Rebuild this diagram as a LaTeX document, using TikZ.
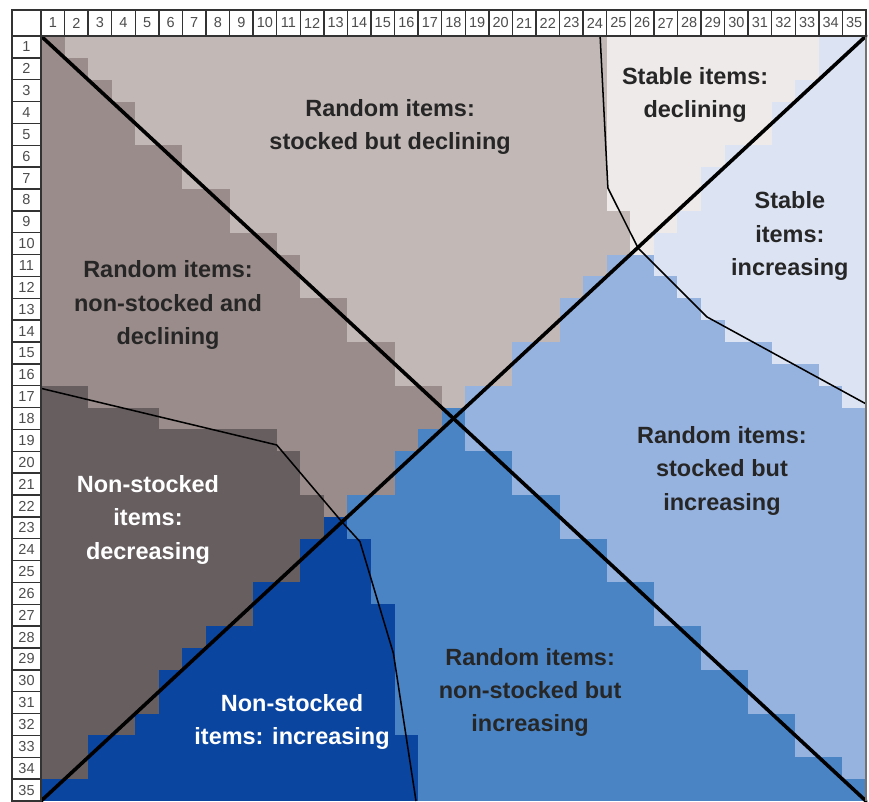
\documentclass[tikz,border=0pt]{standalone}
\usepackage{fontspec}
\setmainfont{Liberation Sans}

\definecolor{ndec}{HTML}{675E60}
\definecolor{rndec}{HTML}{9A8C8A}
\definecolor{rsdec}{HTML}{C2B9B7}
\definecolor{sdec}{HTML}{EDEAE9}
\definecolor{sinc}{HTML}{DCE3F3}
\definecolor{rsinc}{HTML}{96B2DF}
\definecolor{rninc}{HTML}{4A84C5}
\definecolor{ninc}{HTML}{0A45A0}

% one row of cells: colour/last column, ...
\newcommand\cellrow[2]{%
  \foreach \c/\e [remember=\e as \s (initially 0)] in {#2}
    \fill[\c] (\s,1-#1) rectangle (\e+0.02,-#1-0.02);
}

\tikzset{
  collab/.style={draw=black!80, line width=1pt, fill=white, inner sep=0pt,
    minimum width=0.6cm, minimum height=0.6616cm,
    font=\fontsize{10.5}{11}\selectfont, text=black!70},
  rowlab/.style={collab, minimum width=0.738cm, minimum height=0.5564cm},
  divider/.style={line width=2.6pt, line cap=round},
  boundary/.style={line width=1.1pt},
  regionlabel/.style={font=\fontsize{17}{24}\selectfont\bfseries, align=center, text=black!85},
}

\begin{document}
\begin{tikzpicture}[x=0.6cm, y=0.5564cm]
	\useasboundingbox (-1.7394,1.6468) rectangle (35.128,-35);
	
	%TOP HALF
	\cellrow{1}{rndec/1, rsdec/24, sdec/33, sinc/35}
	\cellrow{2}{rndec/2, rsdec/24, sdec/33, sinc/35}
	\cellrow{3}{rndec/3, rsdec/24, sdec/32, sinc/35}
	\cellrow{4}{rndec/4, rsdec/24, sdec/31, sinc/35}
	\cellrow{5}{rndec/4, rsdec/24, sdec/31, sinc/35}
	\cellrow{6}{rndec/6, rsdec/24, sdec/29, sinc/35}
	\cellrow{7}{rndec/6, rsdec/24, sdec/28, sinc/35}
	\cellrow{8}{rndec/8, rsdec/24, sdec/28, sinc/35}
	\cellrow{9}{rndec/8, rsdec/25, sdec/27, sinc/35}
	\cellrow{10}{rndec/10, rsdec/25, sdec/26, sinc/35}
	\cellrow{11}{rndec/11, rsdec/24, rsinc/26, sinc/35}
	\cellrow{12}{rndec/11, rsdec/23, rsinc/27, sinc/35}
	\cellrow{13}{rndec/13, rsdec/22, rsinc/28, sinc/35}
	\cellrow{14}{rndec/13, rsdec/22, rsinc/29, sinc/35}
	\cellrow{15}{rndec/15, rsdec/20, rsinc/31, sinc/35}
	\cellrow{16}{rndec/15, rsdec/20, rsinc/33, sinc/35}
	\cellrow{17}{ndec/2, rndec/17, rsdec/18, rsinc/34, sinc/35}
	
	%BOTTOM HALF
	\cellrow{18}{ndec/5, rndec/17, rninc/18, rsinc/35}
	\cellrow{19}{ndec/10, rndec/16, rninc/18, rsinc/35}
	\cellrow{20}{ndec/11, rndec/15, rninc/20, rsinc/35}
	\cellrow{21}{ndec/11, rndec/15, rninc/20, rsinc/35}
	\cellrow{22}{ndec/12, rndec/13, rninc/22, rsinc/35}
	\cellrow{23}{ndec/12, ninc/13, rninc/22, rsinc/35}
	\cellrow{24}{ndec/11, ninc/14, rninc/24, rsinc/35}
	\cellrow{25}{ndec/11, ninc/14, rninc/24, rsinc/35}
	\cellrow{26}{ndec/9, ninc/14, rninc/26, rsinc/35}
	\cellrow{27}{ndec/9, ninc/15, rninc/26, rsinc/35}
	\cellrow{28}{ndec/7, ninc/15, rninc/28, rsinc/35}
	\cellrow{29}{ndec/6, ninc/15, rninc/28, rsinc/35}
	\cellrow{30}{ndec/5, ninc/15, rninc/30, rsinc/35}
	\cellrow{31}{ndec/5, ninc/15, rninc/30, rsinc/35}
	\cellrow{32}{ndec/4, ninc/15, rninc/32, rsinc/35}
	\cellrow{33}{ndec/2, ninc/16, rninc/32, rsinc/35}
	\cellrow{34}{ndec/2, ninc/16, rninc/34, rsinc/35}
	\cellrow{35}{ninc/16, rninc/35}
	
	%DIAGONALS
	\coordinate (nw) at (0,0);
	\coordinate (ne) at (35,0);
	\coordinate (sw) at (0,-35);
	\coordinate (se) at (35,-35);
	\draw[divider] (nw)--(se);
	\draw[divider] (sw)--(ne);
	
	%BOUNDARIES
	\draw[boundary] (23.72,0)--(24.05,-6.95)--(25.33,-9.70)--(28.25,-12.85)--(35,-16.83);
	\draw[boundary] (0,-16.12)--(10.0,-18.71)--(12.76,-22.22)--(13.53,-23.13)--(14.95,-28.24)--(15.91,-35);
	\draw[black!55, line width=1.2pt] (ne)--(se);
	
	%LABELS
	\node[regionlabel] (rsd) at (14.81,-4.16) {Random items:\\stocked but declining};
	\node[regionlabel] (sd) at (27.75,-2.70) {Stable items:\\declining};
	\node[regionlabel] (si) at (31.77,-9.15) {Stable\\items:\\increasing};
	\node[regionlabel] (rnd) at (5.39,-12.31) {Random items:\\non-stocked and\\declining};
	\node[regionlabel, text=white] (nd) at (4.54,-22.14) {Non-stocked\\items:\\decreasing};
	\node[regionlabel] (rsi) at (28.89,-19.90) {Random items:\\stocked but\\increasing};
	\node[regionlabel] (rni) at (20.75,-30.05) {Random items:\\non-stocked but\\increasing};
	\node[regionlabel, text=white] (ni) at (10.65,-31.38) {Non-stocked\\items: increasing};
	
	%GRID NUMBERS
	\node[rowlab, minimum height=0.6616cm] (corner) at (-0.615,0.5945) {};
	\foreach \i in {1,...,35} {
		\node[collab] (col\i) at (\i-0.5,0.5945) {\i};
		\node[rowlab] (row\i) at (-0.615,0.5-\i) {\i};
	}
\end{tikzpicture}
\end{document}
